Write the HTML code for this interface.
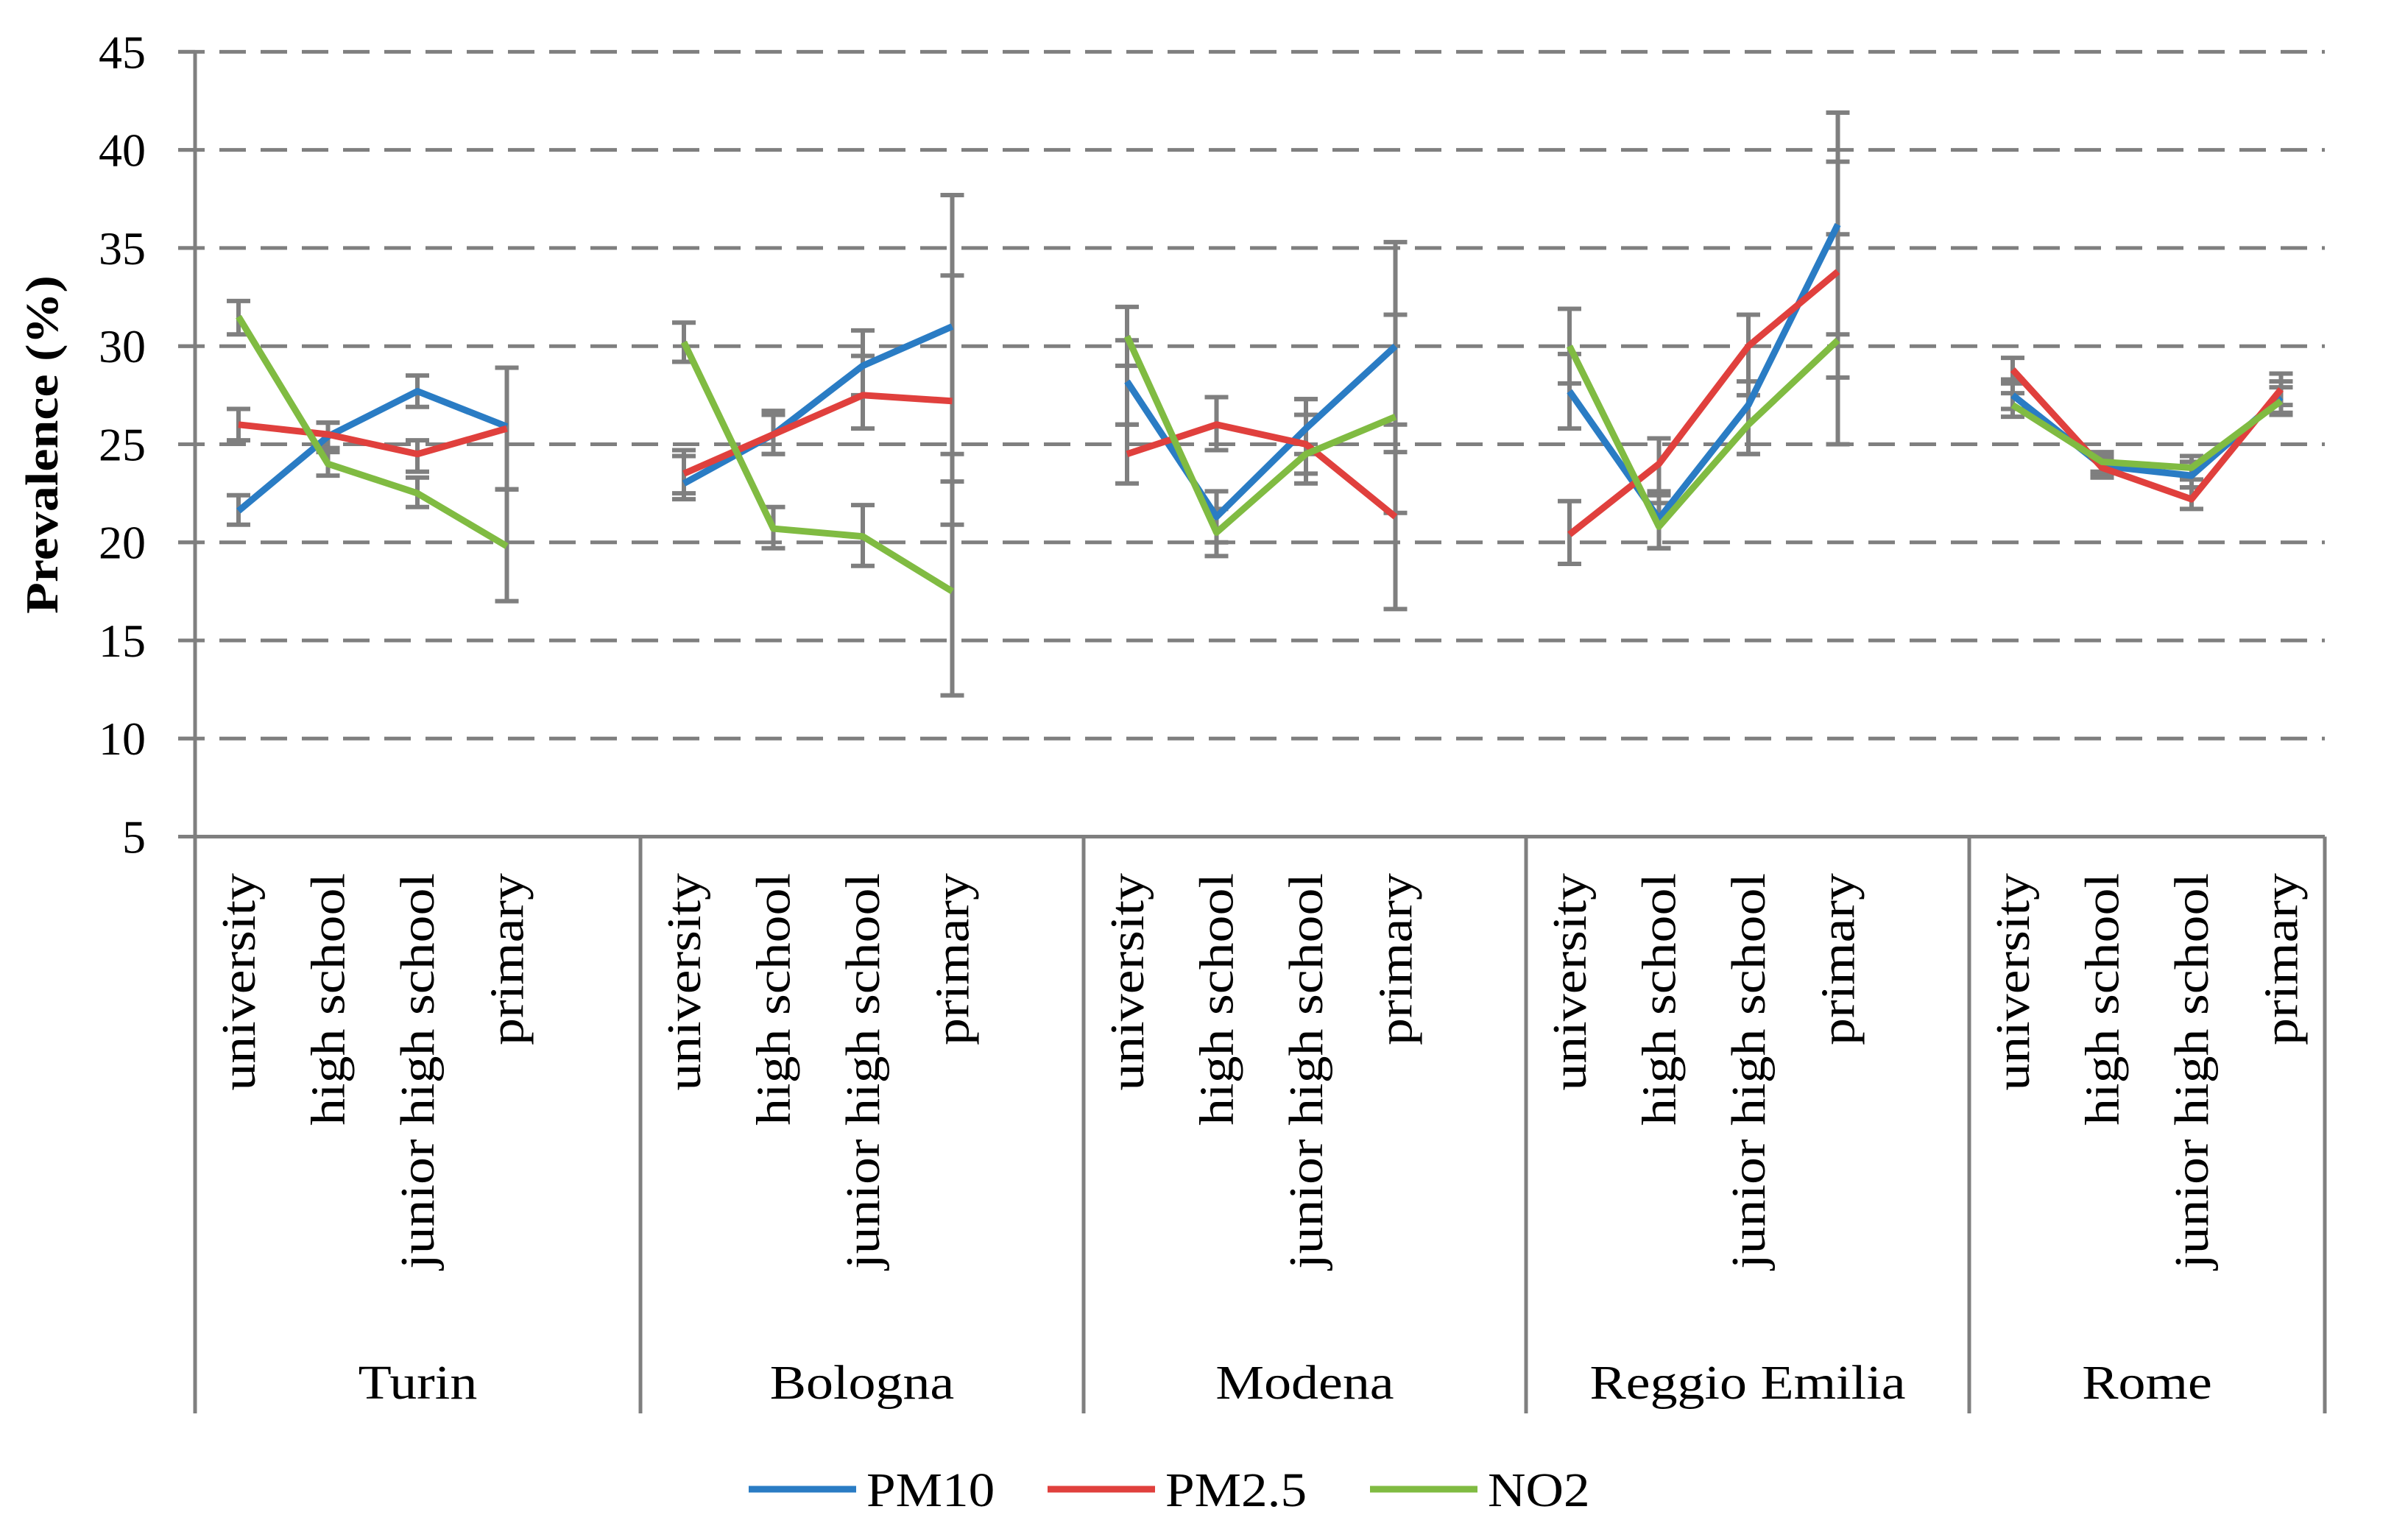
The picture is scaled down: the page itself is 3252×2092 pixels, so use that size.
<!DOCTYPE html>
<html><head><meta charset="utf-8"><style>
html,body{margin:0;padding:0;background:#fff;}
svg{display:block;font-family:"Liberation Serif",serif;}
</style></head><body>
<svg id="chart" width="3252" height="2092" viewBox="0 0 3252 2092" xmlns="http://www.w3.org/2000/svg"></svg>
<script>
const cities = ["Turin","Bologna","Modena","Reggio Emilia","Rome"];
const levels = ["university","high school","junior high school","primary"];
const yTicks = [5,10,15,20,25,30,35,40,45];
const seriesNames = ["PM10","PM2.5","NO2"];
const seriesColors = ["#2a7cc4","#e0403d","#80bb42"];
const pm10 = [21.6,25.4,27.7,25.9, 23.0,25.5,29.0,31.0, 28.2,21.3,25.8,30.0, 27.7,21.2,27.0,36.2, 27.5,23.9,23.4,27.4];
const pm25 = [26.0,25.5,24.5,25.8, 23.5,25.5,27.5,27.2, 24.5,26.0,25.0,21.3, 20.4,24.0,30.0,33.8, 28.8,23.8,22.2,27.8];
const no2  = [31.5,24.0,22.5,19.8, 30.2,20.7,20.3,17.5, 30.5,20.5,24.5,26.4, 30.0,20.8,26.0,30.3, 27.0,24.1,23.8,27.2];
const pm10Lo = [20.9,24.8,26.9,22.7, 22.2,24.5,27.5,24.5, 26.0,20.0,24.5,24.6, 25.8,19.7,24.5,30.6, 26.8,23.4,22.8,26.6];
const pm10Hi = [22.4,26.1,28.5,28.9, 24.4,26.5,30.8,37.7, 30.3,22.6,27.3,35.3, 29.6,22.6,31.6,41.9, 28.3,24.4,24.1,28.2];
const pm25Lo = [25.2,24.8,23.6,22.7, 22.5,24.5,25.8,20.9, 23.0,24.7,23.5,16.6, 18.9,22.4,28.2,28.4, 28.1,23.3,21.7,27.0];
const pm25Hi = [26.8,26.1,25.2,28.9, 24.7,26.7,29.5,33.6, 26.0,27.4,26.5,26.0, 22.1,25.3,31.6,39.4, 29.4,24.3,22.8,28.6];
const no2Lo  = [30.6,23.4,21.8,17.0, 29.2,19.7,18.8,12.2, 29.0,19.3,23.0,21.5, 28.1,19.7,24.5,25.0, 26.4,23.6,23.2,26.5];
const no2Hi  = [32.3,24.6,23.3,22.7, 31.2,21.8,21.9,23.1, 32.0,21.7,27.3,31.6, 31.9,22.0,27.5,35.7, 27.6,24.6,24.4,27.9];

const NS="http://www.w3.org/2000/svg";
const svg=document.getElementById('chart');
function mk(tag,attrs,parent){const e=document.createElementNS(NS,tag);for(const k in attrs)e.setAttribute(k,attrs[k]);(parent||svg).appendChild(e);return e;}
function widen(t,f){const w=t.getComputedTextLength();t.setAttribute('textLength',w*f);t.setAttribute('lengthAdjust','spacingAndGlyphs');}
const yTop=70.4, yBot=1136.5, vMin=5, vMax=45;
function yS(v){return yBot-(v-vMin)/(vMax-vMin)*(yBot-yTop);}
const axisX=265, plotRight=3158;
const groupStarts=[265,870,1472,2073,2675];
const groupEnds=[870,1472,2073,2675,3158];
function xS(i){const g=Math.floor(i/4), k=i%4;return groupStarts[g]+59+k*121.5;}

yTicks.forEach(function(t){
  if(t>5){
    const gl=mk('line',{x1:242,x2:plotRight,y1:yS(t),y2:yS(t),stroke:'#7f7f7f','stroke-width':5,'stroke-dasharray':'36,20'});
    
    
  }
  const tk=mk('line',{x1:242,x2:axisX,y1:yS(t),y2:yS(t),stroke:'#7f7f7f','stroke-width':5});
  
  
  const tl=mk('text',{x:198,y:yS(t)+22,'text-anchor':'end','font-size':64,fill:'#000'});
  tl.textContent=t;
  
  
});
let a=mk('line',{x1:axisX,x2:axisX,y1:yTop,y2:1920,stroke:'#7f7f7f','stroke-width':5});


a=mk('line',{x1:242,x2:plotRight,y1:yBot,y2:yBot,stroke:'#7f7f7f','stroke-width':5});


groupEnds.forEach(function(x,g){
  const l=mk('line',{x1:x,x2:x,y1:yBot,y2:1920,stroke:'#7f7f7f','stroke-width':5});
  
  
});
for(let i=0;i<20;i++){
  const x=xS(i)+22, y=1186;
  const t=mk('text',{x:x,y:y,'text-anchor':'end','font-size':66,fill:'#000',transform:'rotate(-90 '+x+' '+y+')'});
  t.textContent=levels[i%4];
  
  
  widen(t,1.12);
}
cities.forEach(function(c,g){
  const t=mk('text',{x:(groupStarts[g]+groupEnds[g])/2,y:1900,'text-anchor':'middle','font-size':66,fill:'#000'});
  t.textContent=c;
  
  
  widen(t,1.12);
});
const yt=mk('text',{x:78,y:604,'text-anchor':'middle','font-size':62,'font-weight':'bold',fill:'#000',transform:'rotate(-90 78 604)'});
yt.textContent='Prevalence (%)';


widen(yt,1.13);

const allLo=[pm10Lo,pm25Lo,no2Lo], allHi=[pm10Hi,pm25Hi,no2Hi], allV=[pm10,pm25,no2];
for(let s=0;s<3;s++){
  for(let i=0;i<20;i++){
    const x=xS(i), y1=yS(allLo[s][i]), y2=yS(allHi[s][i]);
    const g=mk('g',{stroke:'#7f7f7f','stroke-width':6});
    
    
    mk('line',{x1:x,x2:x,y1:y1,y2:y2},g);
    mk('line',{x1:x-16,x2:x+16,y1:y1,y2:y1},g);
    mk('line',{x1:x-16,x2:x+16,y1:y2,y2:y2},g);
  }
}
for(let s=0;s<3;s++){
  for(let g=0;g<5;g++){
    const pts=[];
    for(let k=0;k<4;k++){const i=g*4+k;pts.push(xS(i)+','+yS(allV[s][i]));}
    const p=mk('polyline',{points:pts.join(' '),fill:'none',stroke:seriesColors[s],'stroke-width':9,'stroke-linejoin':'round'});
    
    
  }
}
const legX=[1017,1423,1861];
seriesNames.forEach(function(n,s){
  const g=mk('g',{});
  
  
  mk('line',{x1:legX[s],x2:legX[s]+146,y1:2023,y2:2023,stroke:seriesColors[s],'stroke-width':9},g);
  const t=mk('text',{x:legX[s]+160,y:2046,'font-size':66,fill:'#000'},g);
  t.textContent=n;
  widen(t,1.08);
});
</script>
</body></html>
